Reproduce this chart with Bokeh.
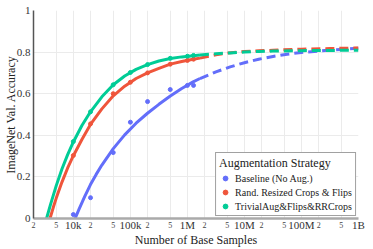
from bokeh.plotting import figure
from bokeh.models import (FixedTicker, Legend, LegendItem, LogAxis, Range1d)
from bokeh.embed import file_html
from bokeh.resources import INLINE

# ---- observed points ----
samples = [1e4, 2e4, 5e4, 1e5, 2e5, 5e5, 1e6, 1.28e6]
acc_baseline = [0.019, 0.10, 0.317, 0.463, 0.562, 0.62, 0.64, 0.64]
acc_rrc = [0.303, 0.455, 0.60, 0.655, 0.70, 0.742, 0.76, 0.766]
acc_trivial = [0.37, 0.513, 0.643, 0.702, 0.74, 0.77, 0.78, 0.784]

# ---- fitted curves (log10 of samples, accuracy) ----
fit_log_solid_baseline = [4.03, 4.1, 4.2, 4.3, 4.4, 4.5, 4.7, 4.9, 5.1, 5.3, 5.5, 5.7, 5.9, 6.1, 6.22]
fit_acc_solid_baseline = [0.0, 0.045, 0.106, 0.163, 0.212, 0.257, 0.336, 0.402, 0.458, 0.506, 0.549, 0.589, 0.625, 0.657, 0.673]
fit_log_dash_baseline = [6.22, 6.5, 6.75, 7.0, 7.25, 7.5, 7.75, 8.0, 8.5, 9.0]
fit_acc_dash_baseline = [0.673, 0.705, 0.729, 0.749, 0.766, 0.779, 0.790, 0.798, 0.810, 0.818]

fit_log_solid_rrc = [3.59, 3.65, 3.7, 3.8, 3.9, 4.0, 4.15, 4.3, 4.5, 4.7, 4.9, 5.1, 5.3, 5.5, 5.7, 5.9, 6.1, 6.22]
fit_acc_solid_rrc = [0.0, 0.055, 0.098, 0.175, 0.243, 0.302, 0.38, 0.452, 0.527, 0.590, 0.636, 0.673, 0.700, 0.722, 0.742, 0.755, 0.766, 0.771]
fit_log_dash_rrc = [6.22, 6.5, 6.75, 7.0, 7.25, 7.5, 8.0, 8.5, 9.0]
fit_acc_dash_rrc = [0.771, 0.787, 0.797, 0.803, 0.806, 0.809, 0.814, 0.817, 0.820]

fit_log_solid_trivial = [3.53, 3.6, 3.7, 3.8, 3.9, 4.0, 4.15, 4.3, 4.5, 4.7, 4.9, 5.1, 5.3, 5.5, 5.7, 5.9, 6.1, 6.22]
fit_acc_solid_trivial = [0.0, 0.068, 0.158, 0.238, 0.307, 0.368, 0.447, 0.513, 0.585, 0.643, 0.685, 0.717, 0.740, 0.757, 0.769, 0.777, 0.783, 0.786]
fit_log_dash_trivial = [6.22, 6.5, 6.75, 7.0, 7.25, 7.5, 8.0, 8.5, 9.0]
fit_acc_dash_trivial = [0.786, 0.792, 0.796, 0.800, 0.803, 0.805, 0.807, 0.808, 0.809]

# ---- axes ----
x_major_ticks = [1e4, 1e5, 1e6, 1e7, 1e8, 1e9]
x_major_labels = ["10k", "100k", "1M", "10M", "100M", "1B"]
x_minor_ticks = [2e3, 5e3, 2e4, 5e4, 2e5, 5e5, 2e6, 5e6, 2e7, 5e7, 2e8, 5e8]
x_minor_labels = ["2", "5"] * 6
y_ticks = [0, 0.2, 0.4, 0.6, 0.8, 1]
y_labels = ["0", "0.2", "0.4", "0.6", "0.8", "1"]

series_names = ["Baseline (No Aug.)", "Rand. Resized Crops & Flips", "TrivialAug&Flips&RRCrops"]
colors = ["#636efa", "#ef553b", "#00cc96"]

FONT = "Liberation Serif"

p = figure(width=373, height=249, x_axis_type="log",
           x_range=Range1d(2e3, 1e9), y_range=Range1d(0, 1),
           output_backend="svg", toolbar_location=None,
           min_border_left=0, min_border_right=15, min_border_top=10,
           min_border_bottom=0)
p.outline_line_color = None
p.background_fill_color = "white"


def plain(ax):
    ax.major_tick_line_color = None
    ax.minor_tick_line_color = None
    ax.major_tick_out = 0
    ax.minor_tick_out = 0
    ax.major_tick_in = 0
    ax.minor_tick_in = 0
    ax.major_label_text_font = FONT
    ax.axis_label_text_font = FONT
    ax.axis_label_text_font_size = "12px"
    ax.axis_label_text_font_style = "normal"
    ax.axis_label_text_color = "#222222"


# nearest x axis: small "2" / "5" labels plus the axis line
xminor = p.xaxis[0]
xminor.ticker = FixedTicker(ticks=x_minor_ticks, minor_ticks=[])
xminor.major_label_overrides = {t: l for t, l in zip(x_minor_ticks, x_minor_labels)}
plain(xminor)
xminor.major_label_text_font_size = "8px"
xminor.major_label_text_color = "#444444"
xminor.major_label_standoff = 3
xminor.axis_line_color = "#aaaaaa"
xminor.axis_line_width = 2.5

# second x axis: decade labels pulled up to the same row, plus the title
xmajor = LogAxis(ticker=FixedTicker(ticks=x_major_ticks, minor_ticks=[]),
                 major_label_overrides={t: l for t, l in zip(x_major_ticks, x_major_labels)},
                 axis_line_color=None)
plain(xmajor)
xmajor.major_label_text_font_size = "11px"
xmajor.major_label_text_color = "#333333"
xmajor.major_label_standoff = -12
xmajor.axis_label = "Number of Base Samples"
xmajor.axis_label_standoff = -1
p.add_layout(xmajor, "below")

# y axis
yax = p.yaxis[0]
yax.ticker = FixedTicker(ticks=y_ticks, minor_ticks=[])
yax.major_label_overrides = {t: l for t, l in zip(y_ticks, y_labels)}
plain(yax)
yax.major_label_text_font_size = "11px"
yax.major_label_text_color = "#333333"
yax.axis_line_color = "#555555"
yax.axis_line_width = 1.5
yax.axis_label = "ImageNet Val. Accuracy"
yax.major_label_standoff = 3
yax.axis_label_standoff = -4

# grid
p.xgrid.ticker = FixedTicker(ticks=sorted(x_major_ticks + x_minor_ticks), minor_ticks=[])
p.xgrid.grid_line_color = "#ebebeb"
p.ygrid.grid_line_color = "#ebebeb"

solid_logs = [fit_log_solid_baseline, fit_log_solid_rrc, fit_log_solid_trivial]
solid_accs = [fit_acc_solid_baseline, fit_acc_solid_rrc, fit_acc_solid_trivial]
dash_logs = [fit_log_dash_baseline, fit_log_dash_rrc, fit_log_dash_trivial]
dash_accs = [fit_acc_dash_baseline, fit_acc_dash_rrc, fit_acc_dash_trivial]
point_accs = [acc_baseline, acc_rrc, acc_trivial]

point_renderers = []
for i in range(3):
    r = p.scatter(samples, point_accs[i], size=4, color=colors[i])
    point_renderers.append(r)
for i in range(3):
    p.line([10 ** v for v in dash_logs[i]], dash_accs[i], line_color=colors[i],
           line_width=3, line_dash="9 5")
for i in range(3):
    p.line([10 ** v for v in solid_logs[i]], solid_accs[i], line_color=colors[i],
           line_width=3)

legend = Legend(items=[LegendItem(label=n, renderers=[r])
                       for n, r in zip(series_names, point_renderers)],
                location="bottom_right", title="Augmentation Strategy")
legend.title_text_font = FONT
legend.title_text_font_size = "12px"
legend.title_text_font_style = "normal"
legend.title_text_color = "#222222"
legend.title_standoff = 1
legend.label_text_font = FONT
legend.label_text_font_size = "10px"
legend.label_text_color = "#222222"
legend.label_height = 12
legend.glyph_height = 12
legend.glyph_width = 12
legend.label_standoff = 4
legend.spacing = 2
legend.padding = 3
legend.margin = 2
legend.border_line_color = "#444444"
legend.border_line_width = 1
legend.background_fill_alpha = 1.0
p.add_layout(legend)

open("out.html", "w").write(file_html(p, INLINE))
